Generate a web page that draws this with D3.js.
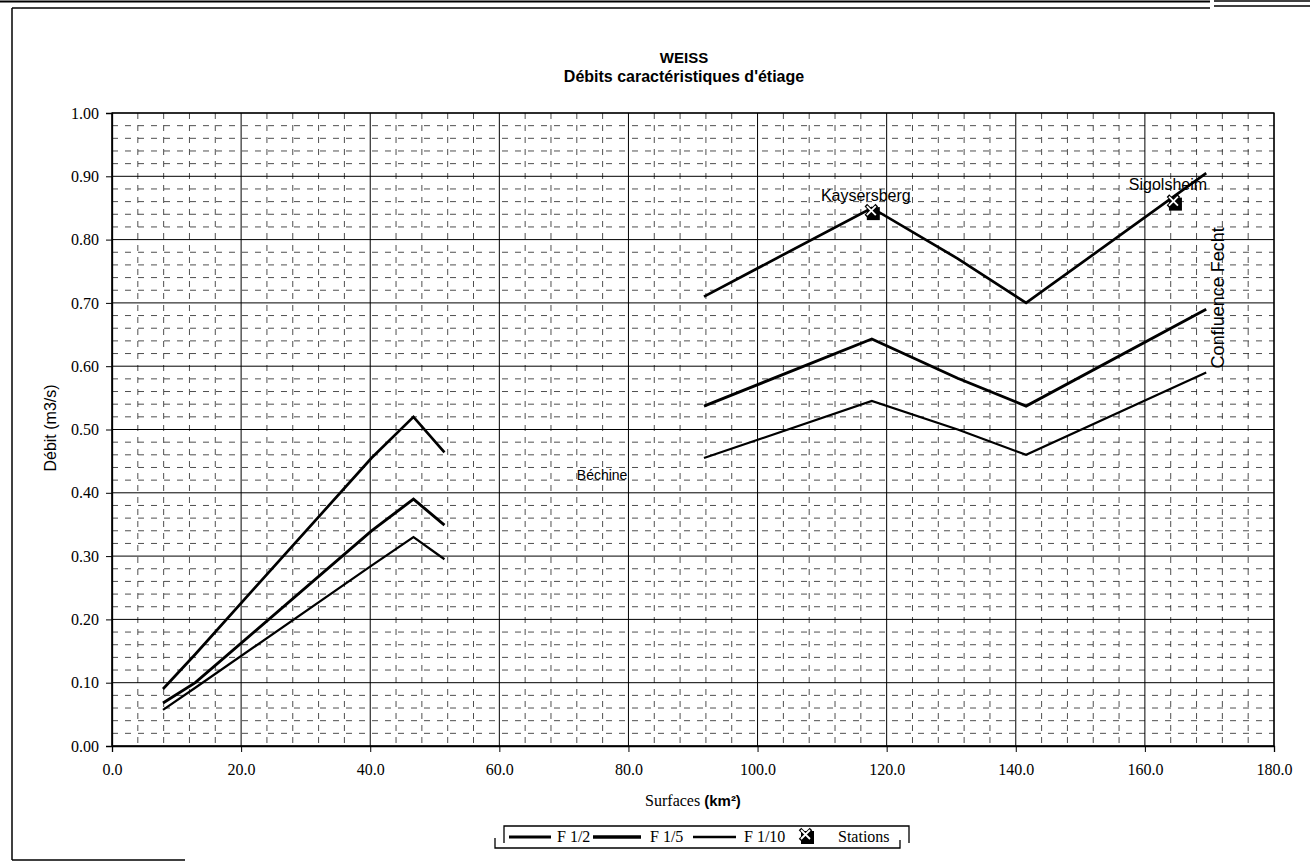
<!DOCTYPE html>
<html><head><meta charset="utf-8">
<script src="https://cdn.jsdelivr.net/npm/d3@7"></script>
<style>body{margin:0;background:#fff} svg{display:block}</style>
</head><body>
<svg id="c" width="1310" height="863"></svg>
<script>
// ---- data ----
const surfaces = [7.9, 12.9, 40.2, 46.7, 51.5, null, 91.7, 117.7, 131.0, 141.6, 169.5];
const qF2  = [0.090, 0.145, 0.455, 0.520, 0.464, null, 0.710, 0.850, 0.770, 0.700, 0.905];
const qF5  = [0.068, 0.100, 0.340, 0.390, 0.349, null, 0.537, 0.643, 0.581, 0.537, 0.690];
const qF10 = [0.057, 0.092, 0.285, 0.330, 0.295, null, 0.455, 0.545, 0.500, 0.460, 0.590];
const seriesNames = ["F 1/2", "F 1/5", "F 1/10"];
const stationNames = ["Kaysersberg", "Sigolsheim"];
const stationSurf = [117.7, 164.5];
const stationQ = [0.845, 0.860];
const noteNames = ["Béchine", "Confluence Fecht"];
const noteSurf = [72.0, 171.3];
const noteQ = [0.420, 0.708];
const xTicks = [0, 20, 40, 60, 80, 100, 120, 140, 160, 180];
const yTicks = [0, 0.1, 0.2, 0.3, 0.4, 0.5, 0.6, 0.7, 0.8, 0.9, 1.0];
const titleLines = ["WEISS", "Débits caractéristiques d'étiage"];

// ---- drawing ----
const svg = d3.select("#c");
const x = d3.scaleLinear().domain([0, 180]).range([112, 1274]);
const y = d3.scaleLinear().domain([0, 1]).range([746, 113]);
const serif = "'Liberation Serif','Times New Roman',serif";
const sans = "'Liberation Sans',Arial,sans-serif";

// outer frame (scanned page look)
const fr = svg.append("g").attr("stroke", "#000").attr("fill", "none");
fr.append("line").attr("x1", 0).attr("x2", 1210).attr("y1", 1.5).attr("y2", 1.5).attr("stroke-width", 2);
fr.append("line").attr("x1", 12).attr("x2", 1210).attr("y1", 8).attr("y2", 8).attr("stroke-width", 1.5);
fr.append("line").attr("x1", 1214).attr("x2", 1310).attr("y1", 1).attr("y2", 1).attr("stroke-width", 1.5);
fr.append("line").attr("x1", 1214).attr("x2", 1310).attr("y1", 6).attr("y2", 6).attr("stroke-width", 1.5);
fr.append("line").attr("x1", 12).attr("x2", 12).attr("y1", 8).attr("y2", 860).attr("stroke-width", 1.5);
fr.append("line").attr("x1", 12).attr("x2", 185).attr("y1", 860).attr("y2", 860).attr("stroke-width", 1.5);

// minor grid
const minorX = d3.range(4, 180, 4).filter(v => v % 20 !== 0);
const minorY = d3.range(1, 50).map(i => i * 0.02).filter((v, i) => (i + 1) % 5 !== 0);
const g = svg.append("g");
g.selectAll("line.mx").data(minorX).join("line")
  .attr("x1", d => x(d)).attr("x2", d => x(d)).attr("y1", y(1)).attr("y2", y(0))
  .attr("stroke", "#222").attr("stroke-width", 0.8).attr("stroke-dasharray", "6,6");
g.selectAll("line.my").data(minorY).join("line")
  .attr("x1", x(0)).attr("x2", x(180)).attr("y1", d => y(d)).attr("y2", d => y(d))
  .attr("stroke", "#222").attr("stroke-width", 0.8).attr("stroke-dasharray", "6,7");
// major grid
g.selectAll("line.Mx").data(xTicks).join("line")
  .attr("x1", d => x(d)).attr("x2", d => x(d)).attr("y1", y(1)).attr("y2", y(0))
  .attr("stroke", "#000").attr("stroke-width", 1);
g.selectAll("line.My").data(yTicks).join("line")
  .attr("x1", x(0)).attr("x2", x(180)).attr("y1", d => y(d)).attr("y2", d => y(d))
  .attr("stroke", "#000").attr("stroke-width", 1);
g.append("rect").attr("x", x(0)).attr("y", y(1)).attr("width", x(180) - x(0)).attr("height", y(0) - y(1))
  .attr("fill", "none").attr("stroke", "#000").attr("stroke-width", 1.3);

// axes
const yAxis = d3.axisLeft(y).tickValues(yTicks).tickFormat(d3.format(".2f")).tickSize(6).tickPadding(7);
const ya = svg.append("g").attr("transform", `translate(${x(0)},0)`).call(yAxis);
ya.select(".domain").attr("stroke-width", 1.3);
ya.selectAll("text").attr("font-family", serif).attr("font-size", 16).attr("fill", "#000");
const xAxis = d3.axisBottom(x).tickValues(xTicks).tickFormat(d3.format(".1f")).tickSize(6).tickPadding(12);
const xa = svg.append("g").attr("transform", `translate(0,${y(0)})`).call(xAxis);
xa.select(".domain").attr("stroke-width", 1.3);
xa.selectAll("text").attr("font-family", serif).attr("font-size", 16).attr("fill", "#000");

// series
const qs = [qF2, qF5, qF10];
const widths = [2.7, 2.9, 2.2];
const line = d3.line().defined(d => d[1] != null).x(d => x(d[0])).y(d => y(d[1]));
qs.forEach((q, i) => {
  const pts = surfaces.map((s, j) => [s, q[j]]);
  svg.append("path").datum(pts).attr("d", line).attr("fill", "none")
    .attr("stroke", "#000").attr("stroke-width", widths[i]).attr("stroke-linejoin", "miter");
});

// station markers
function marker(sel, cx, cy) {
  const m = sel.append("g").attr("transform", `translate(${cx},${cy})`);
  m.append("rect").attr("x", -5).attr("y", -4).attr("width", 13).attr("height", 13).attr("fill", "#000");
  m.append("path").attr("d", "M-6,-6L5,5M5,-6L-6,5").attr("stroke", "#000").attr("stroke-width", 3.6);
  m.append("path").attr("d", "M-5,-5L4,4M4,-5L-5,4").attr("stroke", "#fff").attr("stroke-width", 1.8);
}
stationNames.forEach((n, i) => {
  const sx = x(stationSurf[i]), sy = y(stationQ[i]);
  marker(svg, sx, sy);
  svg.append("text").attr("x", sx - 6).attr("y", sy - (i === 0 ? 10 : 12))
    .attr("text-anchor", "middle").attr("font-family", sans).attr("font-size", 16).text(n);
});

// notes
svg.append("text").attr("x", x(noteSurf[0])).attr("y", y(noteQ[0]))
  .attr("font-family", sans).attr("font-size", 14).text(noteNames[0]);
svg.append("text").attr("transform", `translate(${x(noteSurf[1])},${y(noteQ[1])}) rotate(-90)`)
  .attr("text-anchor", "middle").attr("dominant-baseline", "central")
  .attr("font-family", sans).attr("font-size", 18).text(noteNames[1]);

// titles
svg.append("text").attr("x", 684).attr("y", 63).attr("text-anchor", "middle")
  .attr("font-family", sans).attr("font-weight", "bold").attr("font-size", 15).text(titleLines[0]);
svg.append("text").attr("x", 684).attr("y", 82).attr("text-anchor", "middle")
  .attr("font-family", sans).attr("font-weight", "bold").attr("font-size", 16).text(titleLines[1]);

svg.append("text").attr("transform", "translate(50,428) rotate(-90)")
  .attr("text-anchor", "middle").attr("dominant-baseline", "central")
  .attr("font-family", sans).attr("font-size", 16).text("Débit (m3/s)");

const xl = svg.append("text").attr("x", 693).attr("y", 806).attr("text-anchor", "middle");
xl.append("tspan").attr("font-family", serif).attr("font-size", 16).text("Surfaces ");
xl.append("tspan").attr("font-family", sans).attr("font-size", 15).attr("font-weight", "bold").text("(km²)");

// legend
const lg = svg.append("g");
lg.append("path").attr("d", "M504,843V826H909V843").attr("fill", "none").attr("stroke", "#000").attr("stroke-width", 1.3);
lg.append("path").attr("d", "M495,838V848H900V840").attr("fill", "none").attr("stroke", "#000").attr("stroke-width", 1.3);
const legItems = [[509, 551, 557], [593, 641, 650], [693, 736, 744]];
seriesNames.forEach((n, i) => {
  lg.append("line").attr("x1", legItems[i][0]).attr("x2", legItems[i][1]).attr("y1", 837).attr("y2", 837)
    .attr("stroke", "#000").attr("stroke-width", widths[i] + 0.4);
  lg.append("text").attr("x", legItems[i][2]).attr("y", 842).attr("font-family", serif).attr("font-size", 16).text(n);
});
marker(lg, 806, 835);
lg.append("text").attr("x", 838).attr("y", 842).attr("font-family", serif).attr("font-size", 16).text("Stations");
</script>
</body></html>
